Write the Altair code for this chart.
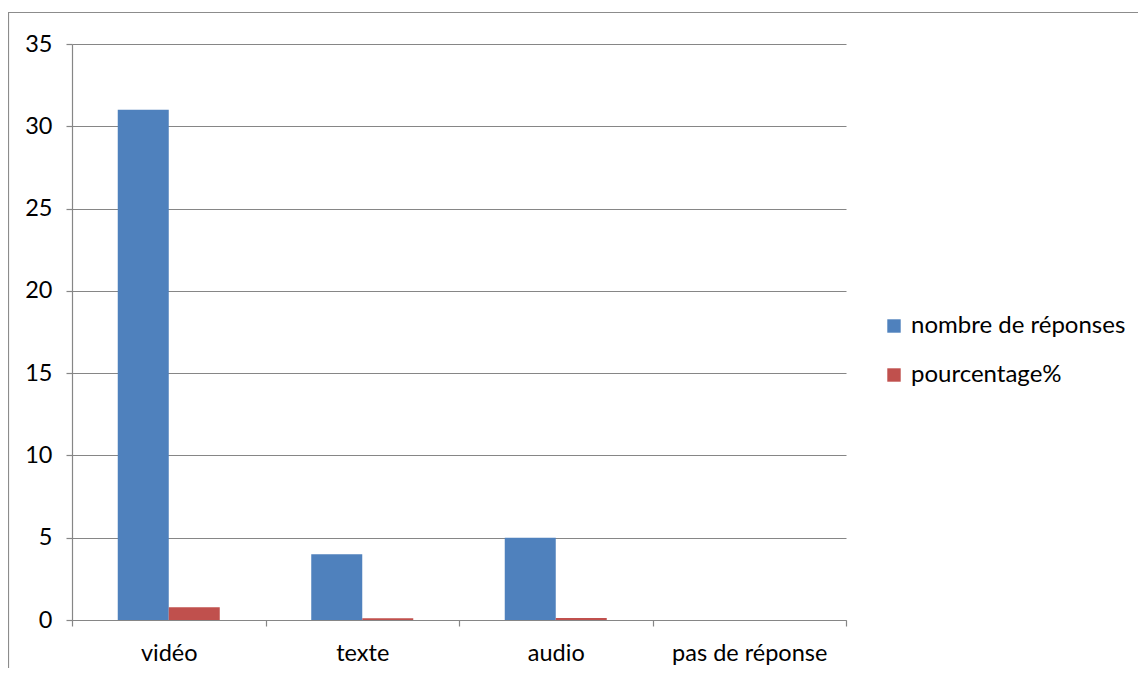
import altair as alt
import pandas as pd

categories = ["vidéo", "texte", "audio", "pas de réponse"]
series_names = ["nombre de réponses", "pourcentage%"]
nombre = [31, 4, 5, 0]
pourcentage = [0.775, 0.1, 0.125, 0]
y_ticks = [0, 5, 10, 15, 20, 25, 30, 35]
colors = ["#4F81BD", "#C0504D"]

rows = []
for c, n, p in zip(categories, nombre, pourcentage):
    rows.append({"cat": c, "serie": series_names[0], "val": n})
    rows.append({"cat": c, "serie": series_names[1], "val": p})
df = pd.DataFrame(rows)

FONT = "Lato"
GRAY = "#868686"
FS = 23.5

bars = alt.Chart(df).mark_bar().encode(
    x=alt.X("cat:N", sort=categories, title=None,
            scale=alt.Scale(paddingInner=0, paddingOuter=0),
            axis=alt.Axis(labelAngle=0, tickBand="extent", tickSize=6,
                          tickColor=GRAY, domainColor=GRAY, labelPadding=15,
                          labelFontSize=FS, labelFont=FONT, labelColor="black",
                          grid=False)),
    xOffset=alt.XOffset("serie:N", sort=series_names,
                        scale=alt.Scale(paddingInner=0, paddingOuter=0.897)),
    y=alt.Y("val:Q", title=None,
            scale=alt.Scale(domain=[0, 35], nice=False),
            axis=alt.Axis(values=y_ticks, tickSize=6, tickColor=GRAY,
                          domainColor=GRAY, gridColor=GRAY, grid=True,
                          labelPadding=14, labelFontSize=FS, labelFont=FONT,
                          labelColor="black")),
    color=alt.Color("serie:N", sort=series_names,
                    scale=alt.Scale(domain=series_names, range=colors),
                    legend=alt.Legend(title=None, orient="none", legendX=810,
                                      legendY=270, symbolType="square",
                                      symbolSize=180, symbolStrokeWidth=0,
                                      labelFontSize=24, labelFont=FONT,
                                      labelColor="black", labelOffset=5,
                                      labelLimit=400, rowPadding=25)),
)

border = alt.Chart(pd.DataFrame({"a": [0]})).mark_rect(
    fill=None, stroke="#8c8c8c", strokeWidth=1.2
).encode(x=alt.value(-63.5), x2=alt.value(3000),
         y=alt.value(-31.5), y2=alt.value(3000))

chart = alt.layer(border, bars).properties(
    width=774, height=576,
    autosize=alt.AutoSizeParams(type="none"),
    padding={"left": 64, "top": 36, "right": 292, "bottom": 48},
).configure_view(stroke=None).configure_axis(domainWidth=1.2, gridWidth=1.2, tickWidth=1.2)

chart.save("out.html", embed_options={"renderer": "svg", "actions": False})
